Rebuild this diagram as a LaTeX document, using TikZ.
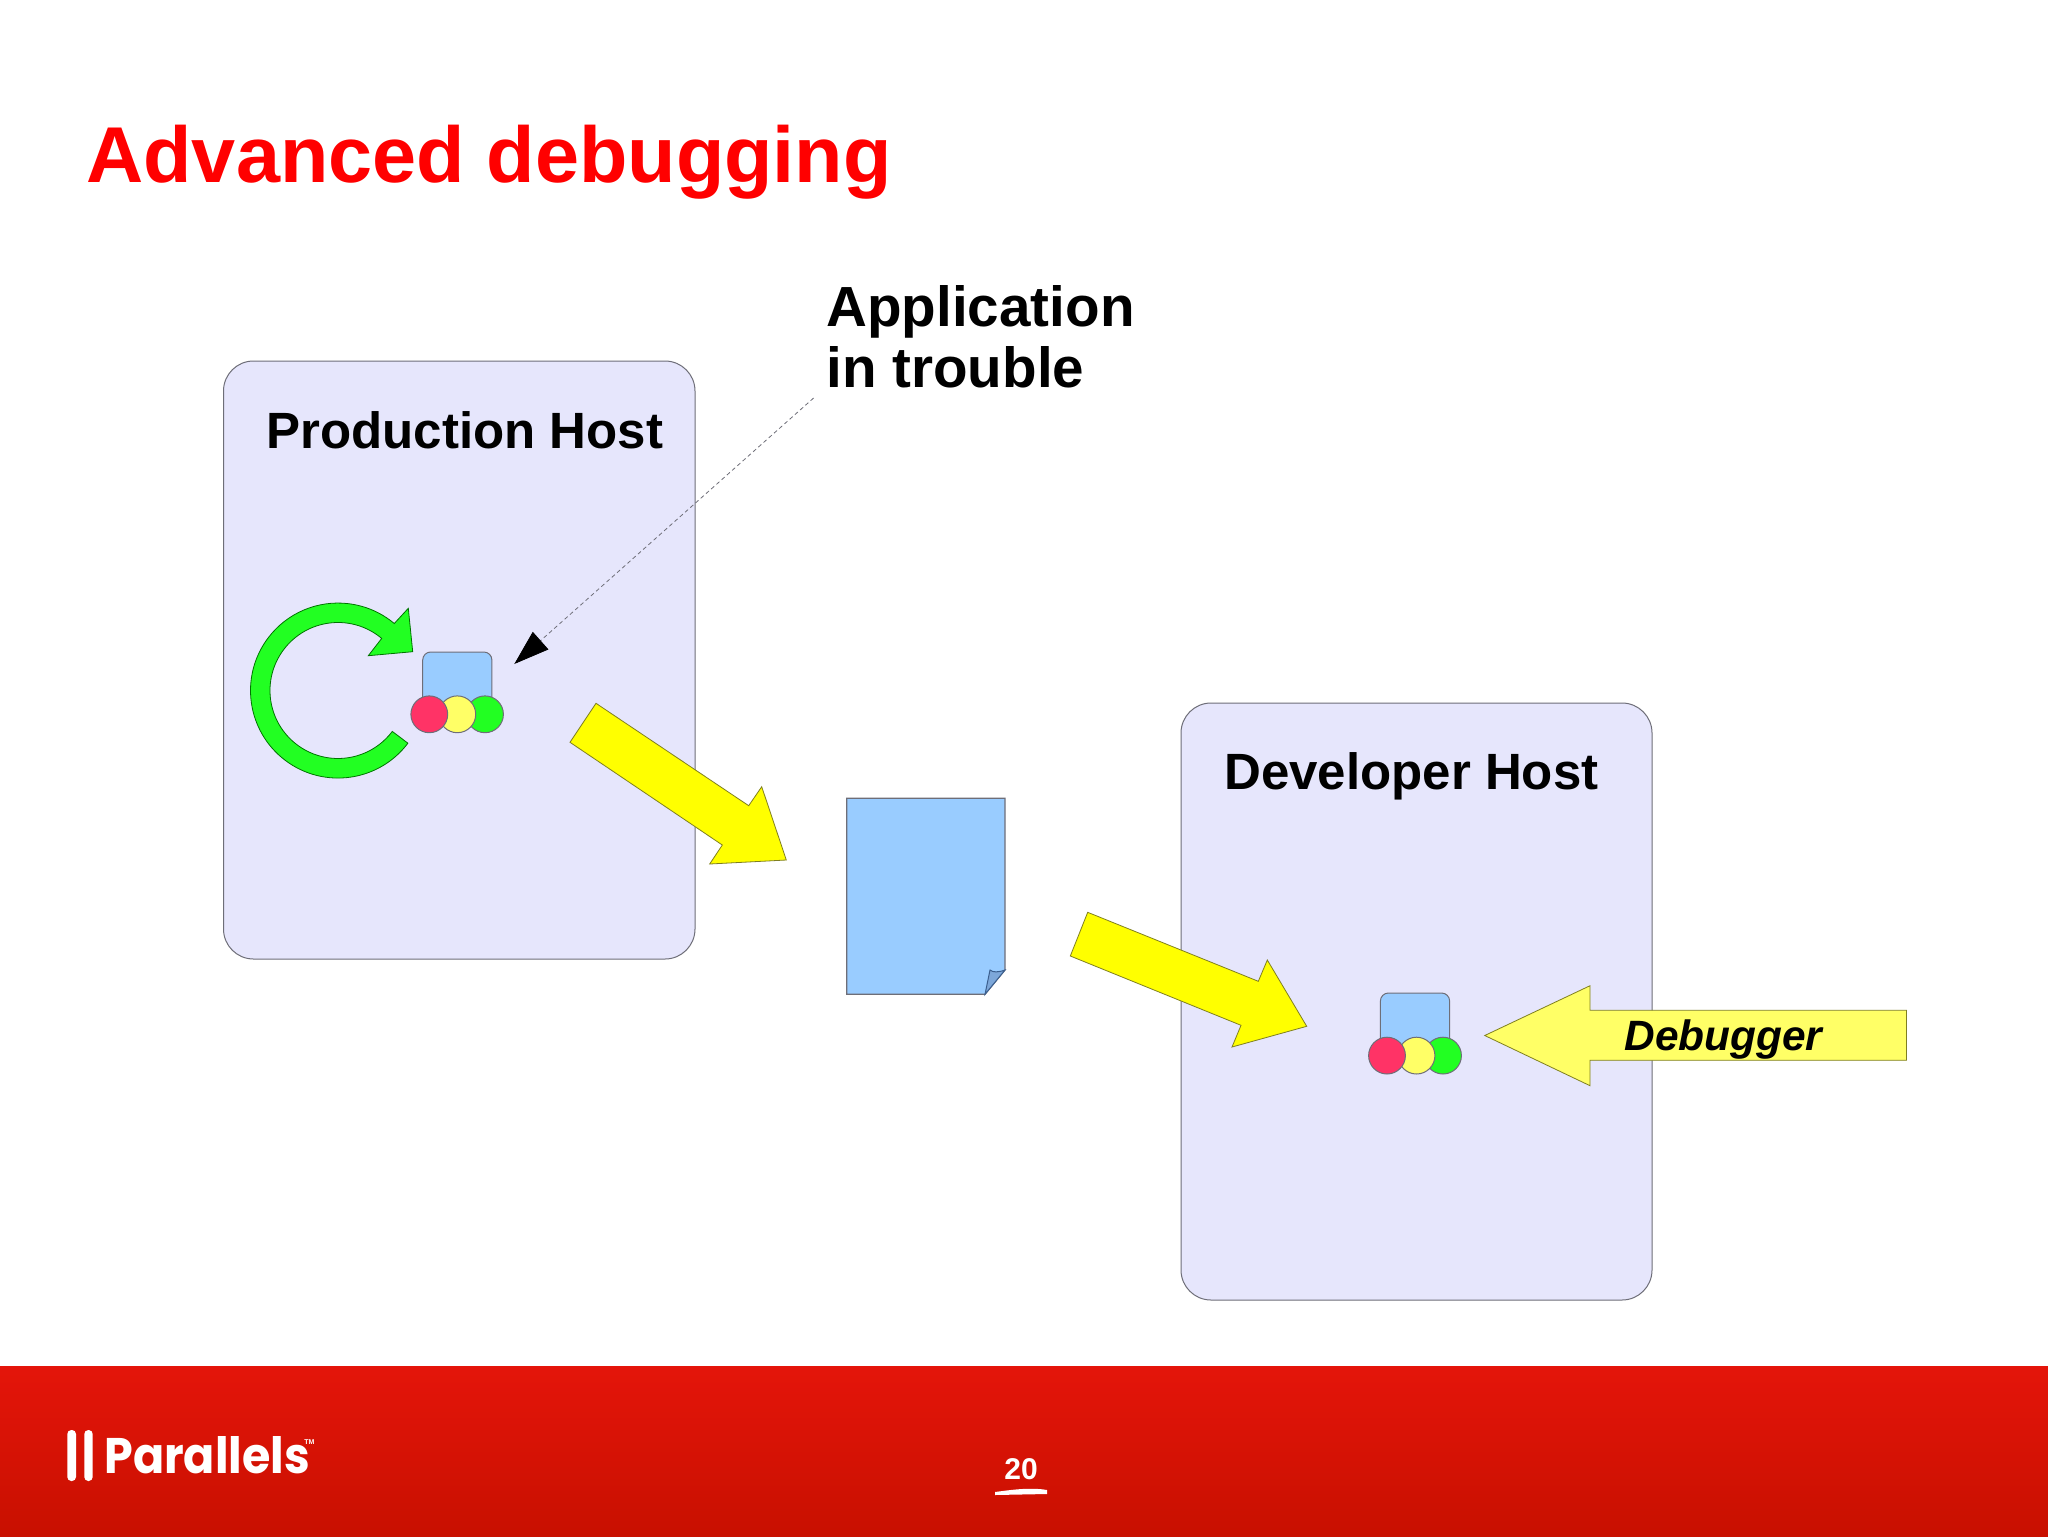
\documentclass[tikz,border=0pt]{standalone}
\usepackage{fontspec}
\setmainfont{Liberation Sans}
\newfontfamily\logofont{Poppins}
\usetikzlibrary{arrows.meta, shapes.geometric}
\definecolor{hostfill}{HTML}{E6E6FC}
\definecolor{appblue}{HTML}{99CCFF}
\definecolor{foldblue}{HTML}{7DA7D9}
\definecolor{foldedge}{HTML}{3B5F8F}
\definecolor{loopgreen}{HTML}{22FF22}
\definecolor{dotred}{HTML}{FF3366}
\definecolor{paleyellow}{HTML}{FFFF66}
\definecolor{pureyellow}{HTML}{FFFF00}
\definecolor{purered}{HTML}{FF0000}
\definecolor{barred}{HTML}{E4150A}
\definecolor{barlow}{HTML}{C81000}
\definecolor{edgegray}{HTML}{6E6E78}
\definecolor{arrowedge}{HTML}{7F7F20}
\tikzset{
  hostbox/.style={draw=edgegray, fill=hostfill, line width=0.5pt, rounded corners=15pt},
  hostlabel/.style={font=\bfseries\fontsize{25.5}{30}\selectfont, anchor=base west, inner sep=0pt},
  appbox/.style={draw=edgegray, fill=appblue, line width=0.5pt, rounded corners=4pt, minimum width=34.6pt, minimum height=34pt, inner sep=0pt},
  appdot/.style={ellipse, draw=edgegray, line width=0.5pt, inner sep=0pt, minimum width=18.4pt, minimum height=18.4pt},
  bigarrow/.style={draw=arrowedge, fill=pureyellow, line width=0.4pt}
}
\begin{document}
\begin{tikzpicture}[x=0.5pt, y=-0.5pt]
        \useasboundingbox (0,0) rectangle (2048,1536);
        \fill[white] (0,0) rectangle (2048,1536);
        % Footer
        \shade[top color=barred, bottom color=barlow] (0,1366) rectangle (2048,1536);
        \fill[white, rounded corners=2pt] (67.3,1430) rectangle (76,1481);
        \fill[white, rounded corners=2pt] (84.3,1430) rectangle (92.7,1481);
        \node[white, anchor=base west, inner sep=0pt, font=\logofont\bfseries\fontsize{25}{30}\selectfont, xscale=0.92] (logo) at (104,1473) {Parallels};
        \node[white, anchor=west, inner sep=0pt, font=\bfseries\fontsize{3.5}{4}\selectfont] (tm) at (304,1442) {TM};
        \node[white, anchor=base, inner sep=0pt, font=\bfseries\fontsize{15}{18}\selectfont] (page) at (1021,1479) {20};
        \fill[white] (995,1492) .. controls (1010,1490) and (1030,1487) .. (1047,1490) -- (1047,1494) -- (995,1495) -- cycle;
        % Title
        \node[purered, anchor=base west, inner sep=0pt, font=\bfseries\fontsize{39.6}{46}\selectfont] (title) at (86,182) {Advanced debugging};
        % Hosts
        \draw[hostbox] (223.5,361) rectangle (695,959);
        \draw[hostbox] (1181,703) rectangle (1652,1300);
        \node[hostlabel] (prod) at (266,448) {Production Host};
        \node[hostlabel] (dev) at (1224,789) {Developer Host};
        % Loop arrow
        \draw[fill=loopgreen, draw=green!45!black, line width=0.4pt] (407.9,743.2)
          arc[start angle=37, end angle=310, radius=87.5]
          -- (408.3,608.3) -- (412.7,651.7) -- (368.3,655.7) -- (381.7,638.4)
          arc[start angle=310, end angle=37, radius=68] -- cycle;
        % Production application
        \node[appbox] (prodapp) at (457.3,686) {};
        \node[appdot, fill=loopgreen] (prodgreen) at (485,714.3) {};
        \node[appdot, fill=paleyellow] (prodyellow) at (457.3,714.3) {};
        \node[appdot, fill=dotred] (prodred) at (429.3,714.3) {};
        % Developer application
        \node[appbox] (devapp) at (1415,1027) {};
        \node[appdot, fill=loopgreen] (devgreen) at (1443,1055.6) {};
        \node[appdot, fill=paleyellow] (devyellow) at (1416.5,1055.6) {};
        \node[appdot, fill=dotred] (devred) at (1387,1055.6) {};
        % Yellow arrows
        \draw[bigarrow] (596,703.3) -- (748.7,805.7) -- (761.7,786.7) -- (786.3,860) -- (709.7,864) -- (722.3,845) -- (570,742.3) -- cycle;
        \draw[bigarrow] (1087.7,912.3) -- (1258.3,981.3) -- (1267.3,960) -- (1306.7,1026.3) -- (1232,1047) -- (1241,1025.3) -- (1070.3,956) -- cycle;
        % Dump file
        \draw[draw=edgegray, fill=appblue, line width=0.6pt] (846.7,798.3) -- (1005,798.3) -- (1005,970) -- (985,994.3) -- (846.7,994.3) -- cycle;
        \draw[draw=foldedge, fill=foldblue, line width=0.5pt] (985,994.3) -- (990,970) .. controls (993,972.5) and (998,972.5) .. (1005,970) -- cycle;
        % Debugger arrow
        \draw[draw=arrowedge, fill=paleyellow, line width=0.4pt] (1484.7,1035.5) -- (1590,985.7) -- (1590,1010.3) -- (1906.4,1010.3) -- (1906.4,1060.3) -- (1590,1060.3) -- (1590,1085.7) -- cycle;
        \node[anchor=base west, inner sep=0pt, font=\bfseries\itshape\fontsize{21.2}{26}\selectfont] (debugger) at (1624,1050) {Debugger};
        % Callout
        \node[anchor=north west, inner sep=0pt, align=left, font=\bfseries\fontsize{28.3}{30.7}\selectfont] (trouble) at (826,285) {Application\\in trouble};
        \coordinate (troubleend) at (813.6,398);
        \coordinate (troubletip) at (514.3,664);
        \draw[edgegray, line width=0.4pt, dash pattern=on 2pt off 1.5pt, -{Triangle[length=17.6pt, width=11.7pt, color=black, fill=black]}] (troubleend) -- (troubletip);
\end{tikzpicture}
\end{document}
